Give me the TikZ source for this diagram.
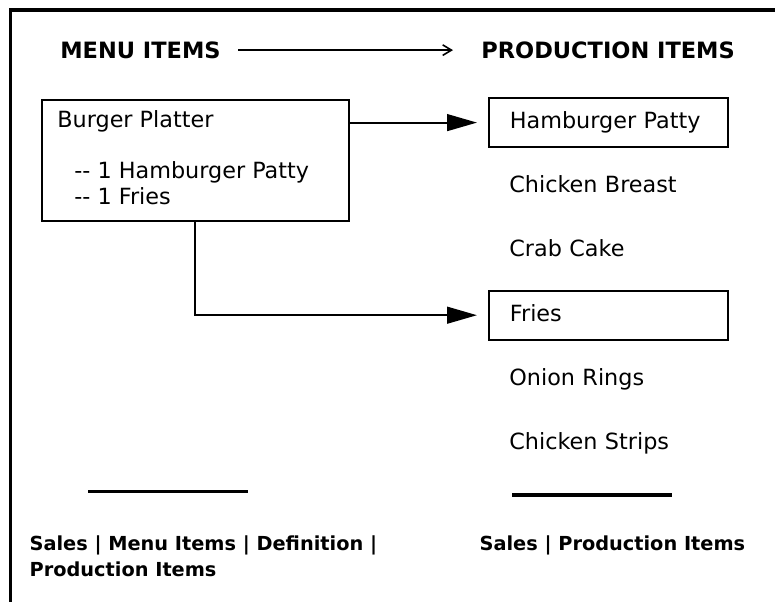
\documentclass[tikz,border=0pt]{standalone}
\usepackage{fontspec}
\setmainfont{DejaVu Sans}
\usetikzlibrary{arrows.meta}

\begin{document}
\begin{tikzpicture}[x=0.02cm,y=-0.02cm,
head/.style={anchor=base west,inner sep=0pt,font=\fontsize{12.8}{15}\selectfont\bfseries},
txt/.style={anchor=base west,inner sep=0pt,font=\fontsize{12.7}{14.7}\selectfont},
menubox/.style={draw,line width=1pt,anchor=north west,minimum width=6.14cm,minimum height=2.42cm},
item/.style={anchor=base west,inner xsep=0.42cm,text width=3.94cm,align=left,minimum height=0.98cm,text height=0.34cm,text depth=0.104cm,font=\fontsize{12.7}{14.7}\selectfont},
itembox/.style={item,draw,line width=1pt},
link/.style={line width=1.2pt,-{Triangle[length=17pt,width=9.5pt]},shorten >=0.22cm},
rule/.style={line width=2pt},
foot/.style={anchor=base west,inner sep=0pt,align=left,font=\fontsize{11}{15.1}\selectfont\bfseries},
]
\useasboundingbox (0,0) rectangle (775,602);

%\draw[help lines,yellow,thin] (0,0) grid[step=1cm] (775,602);

% frame
\draw [line width=2pt] (10.5,602) -- (10.5,10) -- (775,10);

\node  [head] (menu) at (60,58.3){MENU ITEMS};
\node  [head] (prod) at (481,58.3){PRODUCTION ITEMS};
\draw [line width=0.9pt,-{Straight Barb[length=5pt,width=6pt]},shorten <=0.34cm,shorten >=0.56cm] (menu) -- (prod);

% menu item
\node  [menubox] (platter) at (41,99){};
\node  [txt] (platname) at (57,127){Burger Platter};
\node  [txt] (platpatty) at (74,178){-{}- 1 Hamburger Patty};
\node  [txt] (platfries) at (74,204){-{}- 1 Fries};

% production items
\node  [itembox] (hamburger) at (488,128.5){Hamburger Patty};
\node  [item] (breast) at (488,192.7){Chicken Breast};
\node  [item] (crab) at (488,256.9){Crab Cake};
\node  [itembox] (fries) at (488,321.1){Fries};
\node  [item] (onion) at (488,385.3){Onion Rings};
\node  [item] (strips) at (488,449.5){Chicken Strips};

\draw [link] (platter.east |- hamburger.west) -- (hamburger.west);
\draw [link] (platter.south) |- (fries.west);

\draw [rule] (88,491.7) -- (248,491.7);
\draw [rule] (512,495) -- (672,495);

% base of a two line node is its last line
\node  [foot] (menupath) at (29.3,576.7){Sales | Menu Items | Definition |\\Production Items};
\node  [foot] (prodpath) at (479.3,550){Sales | Production Items};
\end{tikzpicture}
\end{document}
